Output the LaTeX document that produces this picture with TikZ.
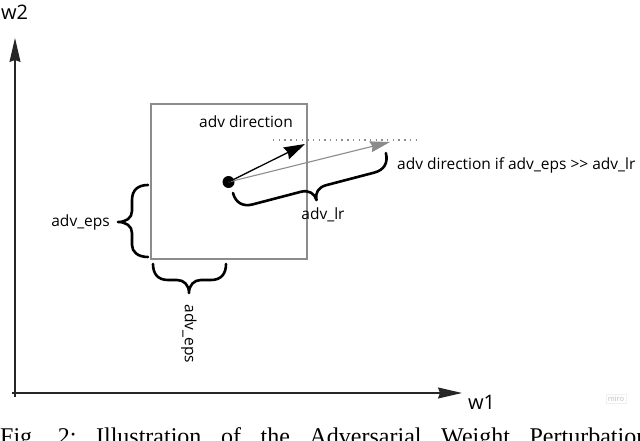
\documentclass[tikz,border=0pt]{standalone}
\usepackage{fontspec}
\setmainfont{Open Sans}
\newfontfamily\capfont{Liberation Serif}
\usetikzlibrary{arrows.meta}
\tikzset{
  lbl/.style={inner sep=0pt, font=\fontsize{15.5}{18}\selectfont},
  axislbl/.style={inner sep=0pt, font=\fontsize{20}{24}\selectfont},
  axisline/.style={line width=1.3pt, draw=black!85},
  axisarrow/.style={axisline, -{Stealth[length=24pt, width=11pt, inset=2pt]}},
  bracestyle/.style={line width=2.6pt, line cap=round, line join=round},
  boxstyle/.style={draw=black!45, line width=1.6pt, minimum width=156pt, minimum height=155pt, inner sep=0pt},
  advarrow/.style={line width=1.3pt, -{Stealth[length=21pt, width=13pt, inset=2pt]}},
  grayarrow/.style={draw=black!45, line width=1.1pt, -{Stealth[length=20pt, width=11pt, inset=2pt]}},
  dotline/.style={draw=black!45, line width=1.4pt, dash pattern=on 1.4pt off 4.3pt},
}
\begin{document}
\begin{tikzpicture}[x=1pt,y=-1pt]
\useasboundingbox (0,0) rectangle (640,441);
\clip (0,0) rectangle (640,441);
\fill[white] (0,0) rectangle (640,441);
% axes
\coordinate (ybot) at (15,397);
\coordinate (ytop) at (15,38);
\coordinate (xleft) at (12,393);
\coordinate (xright) at (462,393);
\draw[axisarrow] (ybot) -- (ytop);
\draw[axisarrow] (xleft) -- (xright);
\node[axislbl] (lw2) at (14.5,12) {w2};
\node[axislbl] (lw1) at (481.5,402) {w1};
% box and point
\node[boxstyle] (box) at (229,181.5) {};
\node[circle, fill=black, minimum size=12pt, inner sep=0pt] (dot) at (228.5,182) {};
% dotted line
\coordinate (d1) at (273,140);
\coordinate (d2) at (418,140);
\draw[dotline] (d1) -- (d2);
% arrows
\coordinate (tipA) at (305,144);
\coordinate (tipB) at (390,142);
\draw[grayarrow] (dot.center) -- (tipB);
\draw[advarrow] (dot.center) -- (tipA);
% labels
\node[lbl] (ladv) at (246,122) {adv direction};
\node[lbl, anchor=west] (ladv2) at (397,165) {adv direction if adv\_eps >{}> adv\_lr};
\node[lbl] (llr) at (323,215) {adv\_lr};
\node[lbl, anchor=east] (leps1) at (110,222) {adv\_eps};
\node[lbl, rotate=-90] (leps2) at (189,334) {adv\_eps};
% left brace
\draw[bracestyle] (148,185) .. controls (138,185) and (132,190) .. (132,200) -- (132,211)
  .. controls (132,218) and (126,222) .. (118,222)
  .. controls (126,222) and (132,226) .. (132,233) -- (132,245)
  .. controls (132,252) and (138,257) .. (148,257);
% bottom brace
\draw[bracestyle] (153,264) .. controls (153,274) and (158,280) .. (168,280) -- (177,280)
  .. controls (184,280) and (189,285) .. (189,293)
  .. controls (189,285) and (194,280) .. (201,280) -- (211,280)
  .. controls (221,280) and (226,274) .. (226,264);
% adv_lr brace
\begin{scope}[shift={(233,193)}, rotate=14.65]
\draw[bracestyle] (0,0) .. controls (0,10) and (6,16) .. (16,16) -- (66,16)
  .. controls (74,16) and (79,21) .. (79,28)
  .. controls (79,21) and (84,16) .. (92,16) -- (142,16)
  .. controls (152,16) and (158,10) .. (158,0);
\end{scope}
% miro watermark
\node[draw=black!6, line width=0.6pt, text=black!25, inner sep=2pt, font=\fontsize{7.5}{9}\selectfont] (miro) at (616,399) {miro};
% caption (cut off at the bottom edge)
\node[anchor=base west, inner sep=0pt, font=\capfont\fontsize{24}{28}\selectfont] (cap) at (0,444.5)
  {\frenchspacing\makebox[648pt][s]{Fig. 2: Illustration of the Adversarial Weight Perturbation}};
\end{tikzpicture}
\end{document}
